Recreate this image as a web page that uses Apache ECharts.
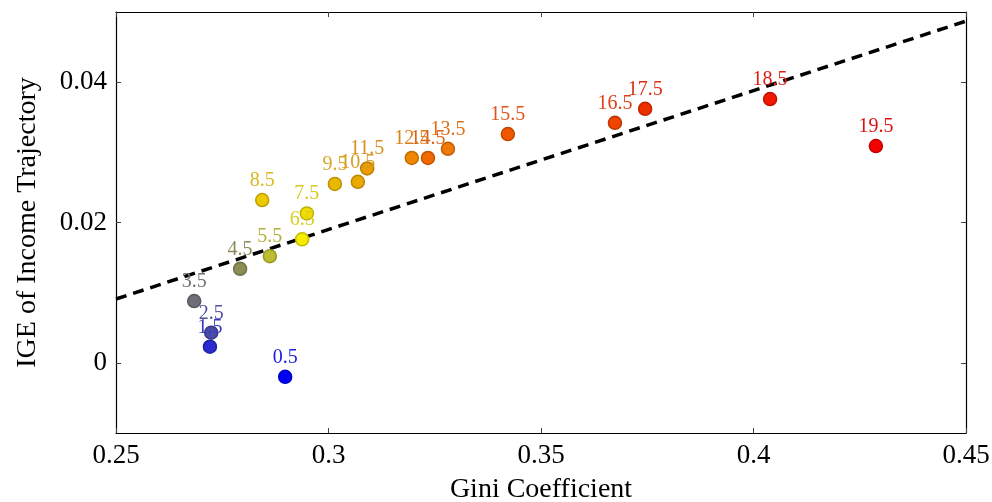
<!DOCTYPE html>
<html><head><meta charset="utf-8">
<script src="https://cdn.jsdelivr.net/npm/echarts@6/dist/echarts.min.js"></script>
<style>html,body{margin:0;padding:0;background:#fff}#c{width:992px;height:502px}</style>
</head><body><div id="c"></div>
<script>
var labels = ['0.5','1.5','2.5','3.5','4.5','5.5','6.5','7.5','8.5','9.5','10.5','11.5','12.5','13.5','14.5','15.5','16.5','17.5','18.5','19.5'];
var gini = [0.2898,0.2721,0.2724,0.2684,0.2792,0.2862,0.2938,0.2949,0.2844,0.3015,0.3069,0.3091,0.3196,0.3281,0.3234,0.3422,0.3674,0.3745,0.4039,0.4288];
var ige = [-0.0020,0.0023,0.0043,0.0088,0.0134,0.0152,0.0176,0.0213,0.0232,0.0255,0.0258,0.0277,0.0292,0.0305,0.0292,0.0326,0.0342,0.0362,0.0376,0.0309];
var colors = ['#0000f5','#2a2ad0','#4a4aa8','#6e6e78','#8c8c55','#bdbd30','#f5ec00','#f0dc00','#eec800','#ebb800','#eaaa00','#eb9c00','#ef8800','#ee7808','#f06a00','#f05800','#f04400','#ee3000','#f01800','#f50000'];
var labelColors = ['#2020e0','#3838c0','#5050a0','#707078','#8a8a5a','#b0b040','#d8d020','#d8c820','#d8b820','#d8a820','#d89c20','#d89020','#dc8018','#dc7018','#dc6418','#e05418','#e04018','#dc3018','#dc2018','#e01010'];
var fitX = [0.25, 0.45];
var fitY = [0.0091, 0.0487];
var xTicks = [0.25,0.3,0.35,0.4,0.45];
var yTicks = [0,0.02,0.04];

function darken(hex,f){var n=parseInt(hex.slice(1),16);var r=(n>>16)&255,g=(n>>8)&255,b=n&255;
 return 'rgb('+Math.round(r*f)+','+Math.round(g*f)+','+Math.round(b*f)+')';}

var fontS = "'Liberation Serif','DejaVu Serif',serif";
var pts = gini.map(function(g,i){return {value:[g,ige[i]],name:labels[i],
  itemStyle:{color:colors[i],borderColor:darken(colors[i],0.8),borderWidth:1.5,opacity:1},
  label:{color:labelColors[i]}};});

var chart = echarts.init(document.getElementById('c'));
var axisLine = {show:true,onZero:false,lineStyle:{color:'#000',width:1.2}};
var tick = {show:true,inside:true,length:5,lineStyle:{color:'#444',width:1}};
chart.setOption({
  animation:false,
  grid:{left:116,right:26,top:12,bottom:69,containLabel:false,outerBoundsMode:'none'},
  xAxis:[
    {type:'value',min:0.25,max:0.45,interval:0.05,
      name:'Gini Coefficient',nameLocation:'middle',nameGap:43,
      nameTextStyle:{fontFamily:fontS,fontSize:28,color:'#000'},
      axisLine:axisLine,axisTick:tick,splitLine:{show:false},
      axisLabel:{fontFamily:fontS,fontSize:27,color:'#000',margin:9,
        formatter:function(v){return String(+v.toFixed(2));}}},
    {type:'value',position:'top',min:0.25,max:0.45,interval:0.05,axisLabel:{show:false},
      axisLine:axisLine,axisTick:tick,splitLine:{show:false}}
  ],
  yAxis:[
    {type:'value',min:-0.01,max:0.05,interval:0.01,
      name:'IGE of Income Trajectory',nameLocation:'middle',nameGap:74,
      nameTextStyle:{fontFamily:fontS,fontSize:28,color:'#000'},
      axisLine:axisLine,splitLine:{show:false},
      axisTick:{show:true,inside:true,length:5,lineStyle:{color:'#444',width:1},customValues:yTicks},
      axisLabel:{fontFamily:fontS,fontSize:27,color:'#000',margin:9,customValues:yTicks,
        formatter:function(v){return String(+v.toFixed(2));}}},
    {type:'value',position:'right',min:-0.01,max:0.05,interval:0.01,axisLabel:{show:false},
      axisLine:axisLine,splitLine:{show:false},
      axisTick:{show:true,inside:true,length:5,lineStyle:{color:'#444',width:1},customValues:yTicks}}
  ],
  series:[
    {type:'line',data:fitX.map(function(x,i){return [x,fitY[i]];}),symbol:'none',
      lineStyle:{color:'#000',width:3.5,type:[11,7]},z:1,silent:true},
    {type:'scatter',data:pts,symbolSize:13,z:3,
      label:{show:true,position:'top',distance:2,fontFamily:fontS,fontSize:20,
        formatter:function(p){return p.name;}}}
  ]
});
</script></body></html>
